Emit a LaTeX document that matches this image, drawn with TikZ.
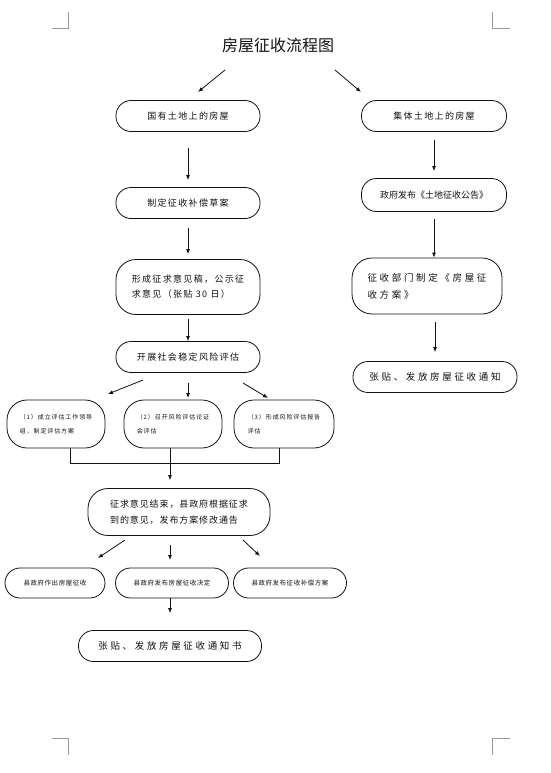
\documentclass[tikz,border=0pt]{standalone}
\usepackage{fontspec}
\newfontfamily\cjk{Noto Sans CJK SC}
\usetikzlibrary{arrows.meta,calc}
\definecolor{ink}{HTML}{111111}
\definecolor{crop}{HTML}{9A9A9A}

\begin{document}
\begin{tikzpicture}[
  x=1pt,y=-1pt,
  >={Latex[length=5pt,width=4pt]},
  line width=0.8pt,
  pill/.style={draw=ink,rectangle,rounded corners=15pt,minimum height=31pt,inner sep=0pt,align=left,text=ink},
  tallpill/.style={pill,rounded corners=20pt},
  arr/.style={->,draw=ink},
  txa/.style={font=\cjk\fontsize{9}{15}\selectfont\addfontfeatures{LetterSpace=15}},
  txc/.style={font=\cjk\fontsize{9}{16}\selectfont\addfontfeatures{LetterSpace=10}},
  txb/.style={font=\cjk\fontsize{9.5}{17}\selectfont\addfontfeatures{LetterSpace=28}},
  txs/.style={font=\cjk\fontsize{6}{14}\selectfont\addfontfeatures{LetterSpace=15}},
  txm/.style={font=\cjk\fontsize{6.5}{10}\selectfont\addfontfeatures{LetterSpace=8}},
]
\useasboundingbox (0,0) rectangle (550,773);

%================================================================ CROP MARKS ===
\draw[crop,line width=0.6pt] (52,28) -- (68,28) -- (68,12);
\draw[crop,line width=0.6pt] (510,28) -- (492,28) -- (492,12);
\draw[crop,line width=0.6pt] (52,738) -- (68,738) -- (68,755);
\draw[crop,line width=0.6pt] (510,738) -- (492,738) -- (492,755);

%===================================================================== TITLE ===
\node[font=\cjk\fontsize{16}{18}\selectfont,text=ink] (title) at (278,45) {房屋征收流程图};

%=============================================================== LEFT COLUMN ===
\node[pill,txa,minimum width=144pt] (gy) at (188,116) {国有土地上的房屋};
\node[pill,txa,minimum width=144pt] (cao) at (188,203) {制定征收补偿草案};
\node[tallpill,txa,minimum width=144pt,minimum height=55pt] (yj) at (188,287)
  {形成征求意见稿，公示征\\求意见（张贴 30 日）};
\node[pill,txa,minimum width=144pt] (wd) at (188,357) {开展社会稳定风险评估};

% three assessment steps
\node[tallpill,txs,minimum width=98pt,minimum height=48pt] (pg1) at (56,424)
  {（1）成立评估工作领导\\组，制定评估方案};
\node[tallpill,txs,minimum width=98pt,minimum height=48pt] (pg2) at (173,424)
  {（2）召开风险评估论证\\会评估};
\node[tallpill,txs,minimum width=100pt,minimum height=48pt] (pg3) at (284,424)
  {（3）形成风险评估报告\\评估};

\node[tallpill,txc,minimum width=182pt,minimum height=47pt] (js) at (179,512)
  {征求意见结束，县政府根据征求\\到的意见，发布方案修改通告};

\node[pill,txm,minimum width=100pt,minimum height=30pt] (zc) at (55,583) {县政府作出房屋征收};
\node[pill,txm,minimum width=113pt,minimum height=30pt] (jd) at (172,583) {县政府发布房屋征收决定};
\node[pill,txm,minimum width=113pt,minimum height=30pt] (fa) at (290,583) {县政府发布征收补偿方案};

\node[pill,txb,minimum width=183pt] (tzs) at (170,646) {张贴、发放房屋征收通知书};

%============================================================== RIGHT COLUMN ===
\node[pill,txa,minimum width=145pt] (jt) at (434,116) {集体土地上的房屋};
\node[pill,font=\cjk\fontsize{9}{15}\selectfont,minimum width=145pt,minimum height=33pt] (gg) at (434,195)
  {政府发布《土地征收公告》};
\node[tallpill,txb,minimum width=150pt,minimum height=56pt] (sf) at (427,286)
  {征收部门制定《房屋征\\收方案》};
\node[pill,txb,minimum width=164pt] (tz) at (435,377) {张贴、发放房屋征收通知};

%================================================================ CONNECTORS ===
\coordinate (t1s) at (225,70);  \coordinate (t1e) at (198,92);
\coordinate (t2s) at (335,70);  \coordinate (t2e) at (361,92);
\draw[arr] (t1s) -- (t1e);
\draw[arr] (t2s) -- (t2e);

\draw[arr,shorten <=16pt,shorten >=7pt] (gy) -- (cao);
\draw[arr,shorten <=9pt,shorten >=5pt] (cao) -- (yj);
\draw[arr,shorten <=4pt] (yj) -- (wd);

\coordinate (w1s) at (143,380); \coordinate (w1e) at (108,394);
\coordinate (w2s) at (188,383); \coordinate (w2e) at (188,398);
\coordinate (w3s) at (243,383); \coordinate (w3e) at (268,398);
\draw[arr] (w1s) -- (w1e);
\draw[arr] (w2s) -- (w2e);
\draw[arr] (w3s) -- (w3e);

% collecting bus under the assessment steps
\coordinate (b1) at (70,463);
\coordinate (b2) at (170,463);
\coordinate (b3) at (279,463);
\draw[ink] (b1 |- pg1.south) -- (b1) -- (b3) -- (b3 |- pg3.south);
\draw[ink] (b2 |- pg2.south) -- (b2);
\draw[arr,shorten >=8pt] (b2) -- (b2 |- js.north);

\coordinate (j1s) at (125,540); \coordinate (j1e) at (98,558);
\coordinate (j2s) at (170,545); \coordinate (j2e) at (170,560);
\coordinate (j3s) at (243,540); \coordinate (j3e) at (260,556);
\draw[arr] (j1s) -- (j1e);
\draw[arr] (j2s) -- (j2e);
\draw[arr] (j3s) -- (j3e);

\draw[arr,shorten >=17pt] (jd.south -| tzs) -- (tzs);

\draw[arr,shorten <=8pt,shorten >=7pt] (jt) -- (gg);
\draw[arr,shorten <=7pt] (gg) -- (gg |- sf.north);
\draw[arr,shorten <=8pt,shorten >=9pt] (sf.south -| tz) -- (tz);

\end{tikzpicture}
\end{document}
